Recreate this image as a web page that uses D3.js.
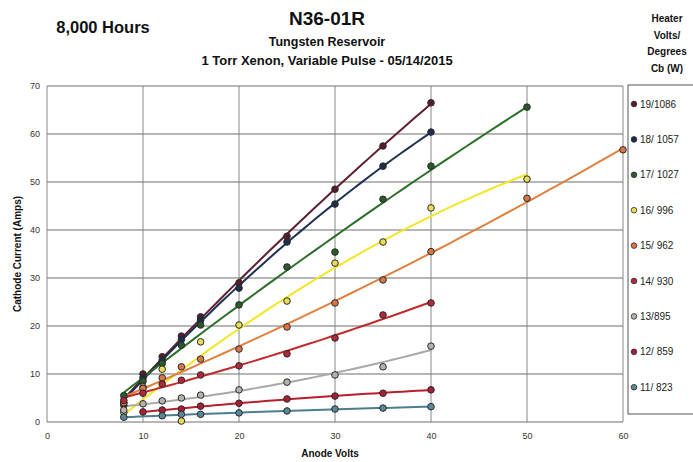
<!DOCTYPE html>
<html>
<head>
<meta charset="utf-8">
<script src="https://cdn.jsdelivr.net/npm/d3@7"></script>
<style>
  html, body { margin: 0; padding: 0; background: #fff; }
  svg { display: block; font-family: "Liberation Sans", Arial, sans-serif; }
</style>
</head>
<body>
<svg id="chart" width="693" height="462"></svg>
<script>
// Anode voltage settings (V) used in the sweeps
const voltsA = [8, 10, 12, 14, 16, 20, 25, 30, 35, 40];
const voltsB = [8, 10, 12, 14, 16, 20, 25, 30, 35, 40, 50];
const voltsC = [8, 10, 12, 14, 16, 20, 25, 30, 35, 40, 50, 60];
const voltsD = [10, 12, 14, 16, 20, 25, 30, 35, 40];
const voltsE = [8, 12, 14, 16, 20, 25, 30, 35, 40];

// Cathode current (A) per heater setting
const amps19 = [3.5, 10.0, 13.6, 17.9, 21.9, 29.0, 38.7, 48.5, 57.5, 66.5];
const amps18 = [4.0, 9.2, 12.9, 17.2, 21.2, 27.9, 37.5, 45.4, 53.3, 60.4];
const amps17 = [5.5, 8.5, 12.2, 16.0, 20.2, 24.4, 32.3, 35.4, 46.4, 53.3, 65.6];
const amps16 = [2.0, 7.3, 11.0, 0.2, 16.7, 20.2, 25.2, 33.1, 37.5, 44.6, 50.6];
const amps15 = [4.0, 7.0, 9.2, 11.5, 13.1, 15.2, 19.8, 24.8, 29.6, 35.5, 46.6, 56.7];
const amps14 = [4.5, 6.0, 7.9, 8.7, 9.8, 11.7, 14.2, 17.5, 22.3, 24.8];
const amps13 = [2.5, 3.8, 4.4, 5.0, 5.6, 6.7, 8.3, 9.8, 11.5, 15.8];
const amps12 = [2.1, 2.5, 2.7, 3.3, 3.9, 4.8, 5.4, 6.0, 6.7];
const amps11 = [1.0, 1.3, 1.6, 1.6, 1.9, 2.3, 2.7, 2.9, 3.2];

const legendLabels = ["19/1086", "18/ 1057", "17/ 1027", "16/ 996", "15/ 962", "14/ 930", "13/895", "12/ 859", "11/ 823"];
const lineColors   = ["#5e1f2e", "#1f3152", "#2c6e2a", "#f2e626", "#e0803e", "#c22a2a", "#a8a8a4", "#b5202c", "#4d7d8e"];
const dotColors    = ["#5a1c2a", "#1d2d4a", "#2a5a2a", "#e8dc58", "#d8764a", "#b0283a", "#b4b4ae", "#a81e34", "#5a8898"];

const xTicks = [0, 10, 20, 30, 40, 50, 60];
const yTicks = [0, 10, 20, 30, 40, 50, 60, 70];

const series = [
  [voltsA, amps19], [voltsA, amps18], [voltsB, amps17], [voltsB, amps16],
  [voltsC, amps15], [voltsA, amps14], [voltsA, amps13], [voltsD, amps12], [voltsE, amps11]
].map(([xs, ys], i) => ({
  label: legendLabels[i],
  line: lineColors[i],
  dot: dotColors[i],
  pts: xs.map((x, j) => ({ x, y: ys[j] }))
}));

// least-squares polynomial trendline
function polyfit(pts, order) {
  const n = order + 1;
  const A = Array.from({ length: n }, () => new Array(n + 1).fill(0));
  pts.forEach(p => {
    for (let r = 0; r < n; r++) {
      for (let c = 0; c < n; c++) A[r][c] += Math.pow(p.x, r + c);
      A[r][n] += p.y * Math.pow(p.x, r);
    }
  });
  for (let i = 0; i < n; i++) {
    let m = i;
    for (let k = i + 1; k < n; k++) if (Math.abs(A[k][i]) > Math.abs(A[m][i])) m = k;
    [A[i], A[m]] = [A[m], A[i]];
    for (let k = i + 1; k < n; k++) {
      const f = A[k][i] / A[i][i];
      for (let c = i; c <= n; c++) A[k][c] -= f * A[i][c];
    }
  }
  const coef = new Array(n).fill(0);
  for (let i = n - 1; i >= 0; i--) {
    let s = A[i][n];
    for (let c = i + 1; c < n; c++) s -= A[i][c] * coef[c];
    coef[i] = s / A[i][i];
  }
  return x => coef.reduce((s, a, k) => s + a * Math.pow(x, k), 0);
}

const svg = d3.select("#chart");
const m = { left: 47, right: 623, top: 86, bottom: 422 };
const x = d3.scaleLinear().domain([0, 60]).range([m.left, m.right]);
const y = d3.scaleLinear().domain([0, 70]).range([m.bottom, m.top]);

// grid
const grid = svg.append("g");
grid.selectAll("line.h").data(yTicks).join("line")
  .attr("x1", m.left).attr("x2", m.right)
  .attr("y1", d => y(d)).attr("y2", d => y(d))
  .attr("stroke", "#5e5e5e").attr("stroke-width", 0.9);
grid.selectAll("line.v").data(xTicks).join("line")
  .attr("y1", m.top).attr("y2", m.bottom)
  .attr("x1", d => x(d)).attr("x2", d => x(d))
  .attr("stroke", "#7a7a7a").attr("stroke-width", 0.9);

// axes tick labels
const xAxis = svg.append("g").attr("transform", `translate(0,${m.bottom})`)
  .call(d3.axisBottom(x).tickValues(xTicks).tickSize(0).tickPadding(11));
const yAxis = svg.append("g").attr("transform", `translate(${m.left},0)`)
  .call(d3.axisLeft(y).tickValues(yTicks).tickSize(0).tickPadding(7));
[xAxis, yAxis].forEach(g => {
  g.select(".domain").remove();
  g.selectAll("text").attr("font-size", 9).attr("fill", "#333")
    .attr("font-family", "Liberation Sans, Arial, sans-serif");
});

// trendlines
const lineGen = d3.line().x(d => x(d.x)).y(d => y(d.y));
series.forEach(s => {
  const f = polyfit(s.pts, 2);
  const [x0, x1] = d3.extent(s.pts, p => p.x);
  const samples = d3.range(0, 41).map(k => {
    const xv = x0 + (x1 - x0) * k / 40;
    return { x: xv, y: f(xv) };
  });
  svg.append("path").datum(samples)
    .attr("d", lineGen).attr("fill", "none")
    .attr("stroke", s.line).attr("stroke-width", 2);
});

// data markers
series.forEach(s => {
  svg.append("g").selectAll("circle").data(s.pts).join("circle")
    .attr("cx", d => x(d.x)).attr("cy", d => y(d.y)).attr("r", 3.3)
    .attr("fill", s.dot).attr("stroke", "#2a2a2a").attr("stroke-width", 1);
});

// titles
const bold = (t, px, py, size, anchor = "middle") => svg.append("text")
  .attr("x", px).attr("y", py).attr("text-anchor", anchor)
  .attr("font-size", size).attr("font-weight", "bold").attr("fill", "#111").text(t);
bold("8,000 Hours", 103, 33, 16.5);
bold("N36-01R", 327, 25, 19);
bold("Tungsten Reservoir", 327, 46, 12.5);
bold("1 Torr Xenon, Variable Pulse - 05/14/2015", 327, 65, 13);
bold("Anode Volts", 330, 457, 10);
svg.append("text")
  .attr("transform", "translate(21,254) rotate(-90)")
  .attr("text-anchor", "middle").attr("font-size", 10).attr("font-weight", "bold")
  .attr("fill", "#111").text("Cathode Current (Amps)");

// legend
["Heater", "Volts/", "Degrees", "Cb (W)"].forEach((t, i) => bold(t, 667, 22 + i * 16.5, 10));
svg.append("rect").attr("x", 628).attr("y", 85).attr("width", 80).attr("height", 329)
  .attr("fill", "#fff").attr("stroke", "#555").attr("stroke-width", 1);
const leg = svg.append("g").selectAll("g").data(series).join("g")
  .attr("transform", (d, i) => `translate(634,${104 + i * 35.4})`);
leg.append("circle").attr("r", 2.8).attr("fill", d => d.dot)
  .attr("stroke", "#2a2a2a").attr("stroke-width", 0.8);
leg.append("text").attr("x", 6).attr("y", 3.5).attr("font-size", 10)
  .attr("fill", "#222").text(d => d.label);
</script>
</body>
</html>
